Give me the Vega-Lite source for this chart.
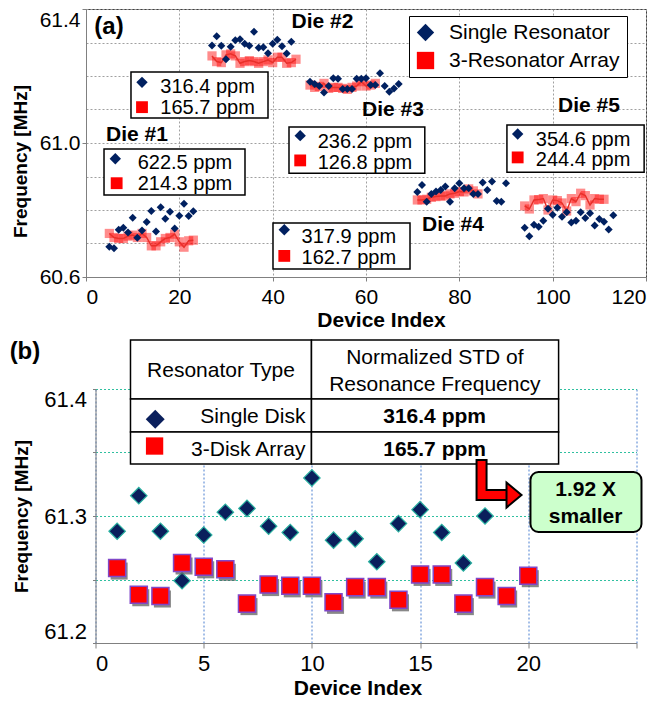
{
"$schema": "https://vega.github.io/schema/vega-lite/v6.json",
"background": "white",
"padding": {"left": 9, "top": 8, "right": 0, "bottom": 0},
"config": {"font": "Liberation Sans", "axis": {"labelColor": "black", "titleColor": "black", "labelFont": "Liberation Sans", "titleFont": "Liberation Sans"}, "legend": {"labelFont": "Liberation Sans"}, "text": {"font": "Liberation Sans"}},
"spacing": 112,
"bounds": "flush",
"center": true,
"resolve": {"scale": {"x": "independent", "y": "independent", "color": "independent", "shape": "independent"}},
"datasets": {
"singleA": [
{"d":1,"x":5,"y":60.690},{"d":1,"x":6,"y":60.686},{"d":1,"x":7,"y":60.741},{"d":1,"x":8,"y":60.747},{"d":1,"x":9,"y":60.733},{"d":1,"x":10,"y":60.777},{"d":1,"x":11,"y":60.717},{"d":1,"x":12,"y":60.739},{"d":1,"x":13,"y":60.764},{"d":1,"x":14,"y":60.797},{"d":1,"x":15,"y":60.736},{"d":1,"x":16,"y":60.808},{"d":1,"x":17,"y":60.774},{"d":1,"x":18,"y":60.795},{"d":1,"x":19,"y":60.745},{"d":1,"x":20,"y":60.783},{"d":1,"x":21,"y":60.819},{"d":1,"x":22,"y":60.782},{"d":1,"x":23,"y":60.796},
{"d":2,"x":27,"y":61.291},{"d":2,"x":28,"y":61.319},{"d":2,"x":29,"y":61.290},{"d":2,"x":30,"y":61.250},{"d":2,"x":31,"y":61.287},{"d":2,"x":32,"y":61.307},{"d":2,"x":33,"y":61.310},{"d":2,"x":34,"y":61.296},{"d":2,"x":35,"y":61.290},{"d":2,"x":36,"y":61.332},{"d":2,"x":37,"y":61.284},{"d":2,"x":38,"y":61.286},{"d":2,"x":39,"y":61.268},{"d":2,"x":40,"y":61.296},{"d":2,"x":41,"y":61.308},{"d":2,"x":42,"y":61.289},{"d":2,"x":43,"y":61.267},{"d":2,"x":44,"y":61.302},
{"d":3,"x":48,"y":61.183},{"d":3,"x":49,"y":61.176},{"d":3,"x":50,"y":61.170},{"d":3,"x":51,"y":61.151},{"d":3,"x":52,"y":61.170},{"d":3,"x":53,"y":61.193},{"d":3,"x":54,"y":61.192},{"d":3,"x":55,"y":61.161},{"d":3,"x":56,"y":61.161},{"d":3,"x":57,"y":61.161},{"d":3,"x":58,"y":61.192},{"d":3,"x":59,"y":61.192},{"d":3,"x":60,"y":61.193},{"d":3,"x":61,"y":61.173},{"d":3,"x":62,"y":61.173},{"d":3,"x":63,"y":61.208},{"d":3,"x":64,"y":61.170},{"d":3,"x":65,"y":61.153},{"d":3,"x":66,"y":61.163},{"d":3,"x":67,"y":61.176},
{"d":4,"x":71,"y":60.854},{"d":4,"x":72,"y":60.875},{"d":4,"x":73,"y":60.825},{"d":4,"x":74,"y":60.848},{"d":4,"x":75,"y":60.855},{"d":4,"x":76,"y":60.860},{"d":4,"x":77,"y":60.870},{"d":4,"x":78,"y":60.825},{"d":4,"x":79,"y":60.865},{"d":4,"x":80,"y":60.880},{"d":4,"x":81,"y":60.865},{"d":4,"x":82,"y":60.865},{"d":4,"x":83,"y":60.848},{"d":4,"x":84,"y":60.848},{"d":4,"x":85,"y":60.882},{"d":4,"x":86,"y":60.860},{"d":4,"x":87,"y":60.885},{"d":4,"x":88,"y":60.827},{"d":4,"x":89,"y":60.825},{"d":4,"x":90,"y":60.880},
{"d":5,"x":94,"y":60.747},{"d":5,"x":95,"y":60.722},{"d":5,"x":96,"y":60.756},{"d":5,"x":97,"y":60.750},{"d":5,"x":98,"y":60.768},{"d":5,"x":99,"y":60.804},{"d":5,"x":100,"y":60.786},{"d":5,"x":101,"y":60.807},{"d":5,"x":102,"y":60.780},{"d":5,"x":103,"y":60.793},{"d":5,"x":104,"y":60.763},{"d":5,"x":105,"y":60.768},{"d":5,"x":106,"y":60.793},{"d":5,"x":107,"y":60.776},{"d":5,"x":108,"y":60.790},{"d":5,"x":109,"y":60.754},{"d":5,"x":110,"y":60.773},{"d":5,"x":111,"y":60.765},{"d":5,"x":112,"y":60.742},{"d":5,"x":113,"y":60.784}
],
"arrayA": [
{"d":1,"x":5,"y":60.730},{"d":1,"x":6,"y":60.718},{"d":1,"x":7,"y":60.715},{"d":1,"x":8,"y":60.715},{"d":1,"x":9,"y":60.722},{"d":1,"x":10,"y":60.725},{"d":1,"x":11,"y":60.718},{"d":1,"x":12,"y":60.730},{"d":1,"x":13,"y":60.718},{"d":1,"x":14,"y":60.693},{"d":1,"x":15,"y":60.693},{"d":1,"x":16,"y":60.705},{"d":1,"x":17,"y":60.715},{"d":1,"x":18,"y":60.718},{"d":1,"x":19,"y":60.728},{"d":1,"x":20,"y":60.705},{"d":1,"x":21,"y":60.689},{"d":1,"x":22,"y":60.708},{"d":1,"x":23,"y":60.710},
{"d":2,"x":27,"y":61.260},{"d":2,"x":28,"y":61.243},{"d":2,"x":29,"y":61.240},{"d":2,"x":30,"y":61.263},{"d":2,"x":31,"y":61.266},{"d":2,"x":32,"y":61.260},{"d":2,"x":33,"y":61.238},{"d":2,"x":34,"y":61.243},{"d":2,"x":35,"y":61.246},{"d":2,"x":36,"y":61.243},{"d":2,"x":37,"y":61.238},{"d":2,"x":38,"y":61.243},{"d":2,"x":39,"y":61.248},{"d":2,"x":40,"y":61.240},{"d":2,"x":41,"y":61.256},{"d":2,"x":42,"y":61.256},{"d":2,"x":43,"y":61.238},{"d":2,"x":44,"y":61.240},{"d":2,"x":45,"y":61.250},
{"d":3,"x":48,"y":61.173},{"d":3,"x":49,"y":61.166},{"d":3,"x":50,"y":61.169},{"d":3,"x":51,"y":61.178},{"d":3,"x":52,"y":61.163},{"d":3,"x":53,"y":61.166},{"d":3,"x":54,"y":61.166},{"d":3,"x":55,"y":61.163},{"d":3,"x":56,"y":61.160},{"d":3,"x":57,"y":61.166},{"d":3,"x":58,"y":61.170},{"d":3,"x":59,"y":61.183},{"d":3,"x":60,"y":61.170},{"d":3,"x":61,"y":61.173},{"d":3,"x":62,"y":61.178},
{"d":4,"x":71,"y":60.830},{"d":4,"x":72,"y":60.830},{"d":4,"x":73,"y":60.832},{"d":4,"x":74,"y":60.838},{"d":4,"x":75,"y":60.840},{"d":4,"x":76,"y":60.842},{"d":4,"x":77,"y":60.842},{"d":4,"x":78,"y":60.848},{"d":4,"x":79,"y":60.850},{"d":4,"x":80,"y":60.855},{"d":4,"x":81,"y":60.854},{"d":4,"x":82,"y":60.863},{"d":4,"x":83,"y":60.857},{"d":4,"x":84,"y":60.848},
{"d":5,"x":94,"y":60.812},{"d":5,"x":95,"y":60.803},{"d":5,"x":96,"y":60.830},{"d":5,"x":97,"y":60.831},{"d":5,"x":98,"y":60.834},{"d":5,"x":99,"y":60.800},{"d":5,"x":100,"y":60.830},{"d":5,"x":101,"y":60.828},{"d":5,"x":102,"y":60.821},{"d":5,"x":103,"y":60.797},{"d":5,"x":104,"y":60.834},{"d":5,"x":105,"y":60.825},{"d":5,"x":106,"y":60.850},{"d":5,"x":107,"y":60.843},{"d":5,"x":108,"y":60.815},{"d":5,"x":109,"y":60.834},{"d":5,"x":110,"y":60.832},{"d":5,"x":111,"y":60.832}
],
"boxA": [{"x":3.86,"x2":34.07,"y":60.845,"y2":60.982},{"x":9.64,"x2":39.0,"y":61.075,"y2":61.212},{"x":43.5,"x2":72.6,"y":60.910,"y2":61.048},{"x":40.07,"x2":69.43,"y":60.624,"y2":60.761},{"x":90.2,"x2":119.6,"y":60.913,"y2":61.054}],
"ppmA": [{"x":11.07,"y":60.941,"t":"622.5 ppm"},{"x":11.07,"y":60.877,"t":"214.3 ppm"},{"x":15.93,"y":61.167,"t":"316.4 ppm"},{"x":15.93,"y":61.104,"t":"165.7 ppm"},{"x":49.64,"y":61.003,"t":"236.2 ppm"},{"x":49.64,"y":60.940,"t":"126.8 ppm"},{"x":46.2,"y":60.719,"t":"317.9 ppm"},{"x":46.2,"y":60.657,"t":"162.7 ppm"},{"x":96.4,"y":61.010,"t":"354.6 ppm"},{"x":96.4,"y":60.948,"t":"244.4 ppm"}],
"dmA": [{"x":6.28,"y":60.953},{"x":12.0,"y":61.181},{"x":45.9,"y":61.022},{"x":42.49,"y":60.741},{"x":92.5,"y":61.027}],
"sqA": [{"x":6.57,"y":60.880},{"x":12.0,"y":61.107},{"x":45.9,"y":60.948},{"x":42.49,"y":60.663},{"x":92.5,"y":60.957}],
"dieA": [{"x":10.93,"y":61.024,"t":"Die #1"},{"x":50.68,"y":61.361,"t":"Die #2"},{"x":65.78,"y":61.099,"t":"Die #3"},{"x":78.64,"y":60.755,"t":"Die #4"},{"x":107.78,"y":61.110,"t":"Die #5"}],
"singleB": [{"x":1,"y":61.288},{"x":2,"y":61.316},{"x":3,"y":61.288},{"x":4,"y":61.249},{"x":5,"y":61.285},{"x":6,"y":61.303},{"x":7,"y":61.306},{"x":8,"y":61.292},{"x":9,"y":61.287},{"x":10,"y":61.330},{"x":11,"y":61.281},{"x":12,"y":61.282},{"x":13,"y":61.264},{"x":14,"y":61.294},{"x":15,"y":61.305},{"x":16,"y":61.287},{"x":17,"y":61.263},{"x":18,"y":61.300}],
"arrayB": [{"x":1,"y":61.259},{"x":2,"y":61.238},{"x":3,"y":61.237},{"x":4,"y":61.263},{"x":5,"y":61.260},{"x":6,"y":61.258},{"x":7,"y":61.231},{"x":8,"y":61.246},{"x":9,"y":61.245},{"x":10,"y":61.245},{"x":11,"y":61.232},{"x":12,"y":61.244},{"x":13,"y":61.244},{"x":14,"y":61.234},{"x":15,"y":61.254},{"x":16,"y":61.254},{"x":17,"y":61.231},{"x":18,"y":61.244},{"x":19,"y":61.237},{"x":20,"y":61.253}],
"tableB": [{"x":1.617,"x2":9.98,"y":61.3921,"y2":61.4386},{"x":9.98,"x2":21.4,"y":61.3921,"y2":61.4386},{"x":1.617,"x2":9.98,"y":61.3661,"y2":61.3921},{"x":9.98,"x2":21.4,"y":61.3661,"y2":61.3921},{"x":1.617,"x2":9.98,"y":61.3409,"y2":61.3661},{"x":9.98,"x2":21.4,"y":61.3409,"y2":61.3661}],
"headB": [{"x":5.8,"y":61.4142,"t":"Resonator Type"},{"x":15.68,"y":61.4244,"t":"Normalized STD of"},{"x":15.68,"y":61.4031,"t":"Resonance Frequency"}],
"rightB": [{"x":9.7,"y":61.3782,"t":"Single Disk"},{"x":9.7,"y":61.352,"t":"3-Disk Array"}],
"boldB": [{"x":15.67,"y":61.3782,"t":"316.4 ppm"},{"x":15.67,"y":61.352,"t":"165.7 ppm"}],
"arrowOut": [{"x":17.84,"y":61.3449,"o":1},{"x":17.84,"y":61.3165,"o":2},{"x":19.2,"y":61.3165,"o":3}],
"arrowIn": [{"x":17.84,"y":61.3433,"o":1},{"x":17.84,"y":61.3165,"o":2},{"x":19.2,"y":61.3165,"o":3}],
"calloutB": [{"x":20.1,"x2":25.23,"y":61.2874,"y2":61.3346}],
"calloutT": [{"x":22.65,"y":61.3205,"t":"1.92 X"},{"x":22.65,"y":61.2992,"t":"smaller"}]
},
"vconcat": [
{
"width": 560, "height": 268,
"view": {"stroke": "#404040"},
"encoding": {
"x": {"field": "x", "type": "quantitative", "scale": {"domain": [0, 120], "nice": false, "zero": false},
"axis": {"values": [0,20,40,60,80,100,120], "format": "d", "labelFlush": true, "labelFontSize": 21, "labelPadding": 5, "tickSize": 4, "tickColor": "#808080", "domainColor": "#808080", "grid": true, "gridColor": "#a0a0a0", "gridDash": [2,2], "title": "Device Index", "titleFontSize": 21, "titleFontWeight": "bold", "titlePadding": 2, "titleX": 295}},
"y": {"field": "y", "type": "quantitative", "scale": {"domain": [60.6, 61.4], "nice": false, "zero": false},
"axis": {"values": [60.6,60.7,60.8,60.9,61.0,61.1,61.2,61.3,61.4], "labelExpr": "(abs(datum.value-60.6)<0.001||abs(datum.value-61)<0.001||abs(datum.value-61.4)<0.001) ? format(datum.value,'.1f') : ''", "labelBaseline": {"condition": {"test": "datum.value>61.39", "value": "top"}, "value": "middle"}, "tickOpacity": {"condition": {"test": "abs(datum.value-60.6)<0.001||abs(datum.value-61)<0.001||abs(datum.value-61.4)<0.001", "value": 1}, "value": 0}, "tickSize": 4, "tickColor": "#808080", "labelPadding": 2, "labelFontSize": 21, "grid": true, "gridColor": "#a0a0a0", "gridDash": [2,2], "domainColor": "#808080", "title": "Frequency [MHz]", "titleFontSize": 19, "titleFontWeight": "bold", "titlePadding": 9, "titleY": 152}}
},
"layer": [
{"data": {"name": "arrayA"}, "mark": {"type": "point", "filled": true, "size": 85, "opacity": 0.45},
"encoding": {
"color": {"datum": "3-Resonator Array", "scale": {"domain": ["Single Resonator", "3-Resonator Array"], "range": ["#002060", "#ff0000"]}, "legend": {"orient": "none", "legendX": 323, "legendY": 7, "title": null, "fillColor": "white", "strokeColor": "black", "padding": 6, "labelFontSize": 21, "labelLimit": 400, "labelColor": "black", "symbolSize": 300, "symbolOpacity": 1, "rowPadding": 6, "labelOffset": 13}},
"shape": {"datum": "3-Resonator Array", "scale": {"domain": ["Single Resonator", "3-Resonator Array"], "range": ["diamond", "square"]}, "legend": {"orient": "none", "legendX": 323, "legendY": 7, "title": null, "fillColor": "white", "strokeColor": "black", "padding": 6, "labelFontSize": 21, "labelLimit": 400, "labelColor": "black", "symbolSize": 300, "symbolOpacity": 1, "rowPadding": 6, "labelOffset": 13}}
}},
{"data": {"name": "arrayA"}, "mark": {"type": "line", "color": "#e8302a", "strokeWidth": 1.5}, "encoding": {"detail": {"field": "d", "type": "nominal"}}},
{"data": {"name": "singleA"}, "mark": {"type": "point", "filled": true, "size": 64, "opacity": 1},
"encoding": {
"color": {"datum": "Single Resonator", "scale": {"domain": ["Single Resonator", "3-Resonator Array"], "range": ["#002060", "#ff0000"]}},
"shape": {"datum": "Single Resonator", "scale": {"domain": ["Single Resonator", "3-Resonator Array"], "range": ["diamond", "square"]}}
}},
{"data": {"name": "boxA"}, "mark": {"type": "rect", "fill": "white", "stroke": "black", "strokeWidth": 1.5}, "encoding": {"x2": {"field": "x2"}, "y2": {"field": "y2"}}},
{"data": {"name": "ppmA"}, "mark": {"type": "text", "align": "left", "baseline": "middle", "fontSize": 20, "color": "black"}, "encoding": {"text": {"field": "t"}}},
{"data": {"name": "dmA"}, "mark": {"type": "point", "shape": "diamond", "filled": true, "size": 130, "color": "#002060", "opacity": 1}},
{"data": {"name": "sqA"}, "mark": {"type": "point", "shape": "square", "filled": true, "size": 140, "color": "#ff0000", "opacity": 1}},
{"data": {"name": "dieA"}, "mark": {"type": "text", "align": "center", "baseline": "middle", "fontSize": 21, "fontWeight": "bold", "color": "black"}, "encoding": {"text": {"field": "t"}}},
{"data": {"values": [{"x": 4.93, "y": 61.346, "t": "(a)"}]}, "mark": {"type": "text", "align": "center", "baseline": "middle", "fontSize": 24, "fontWeight": "bold", "color": "black"}, "encoding": {"text": {"field": "t"}}}
]
},
{
"width": 541, "height": 254,
"view": {"stroke": null},
"encoding": {
"x": {"field": "x", "type": "quantitative", "scale": {"domain": [0, 25], "nice": false, "zero": false},
"axis": {"values": [0,5,10,15,20,25], "labelExpr": "datum.value==25 ? '' : datum.label", "labelFlush": true, "labelFontSize": 22, "labelPadding": 5, "tickSize": 5, "tickColor": "#808080", "domainColor": "#808080", "grid": true, "gridColor": "#4a7fd0", "gridDash": [2,2], "title": "Device Index", "titleFontSize": 21, "titleFontWeight": "bold", "titlePadding": 3, "titleX": 262}},
"y": {"field": "y", "type": "quantitative", "scale": {"domain": [61.2, 61.4], "nice": false, "zero": false},
"axis": {"values": [61.2,61.25,61.3,61.35,61.4], "labelExpr": "(abs(datum.value-61.25)<0.001||abs(datum.value-61.35)<0.001) ? '' : format(datum.value,'.1f')", "labelFlush": true, "labelFontSize": 22, "labelPadding": 6, "tickSize": 3, "tickColor": "#808080", "domainColor": "#808080", "grid": true, "gridColor": "#30c0a0", "gridDash": [2,2], "title": "Frequency [MHz]", "titleFontSize": 19, "titleFontWeight": "bold", "titlePadding": 12}}
},
"layer": [
{"data": {"name": "singleB"}, "mark": {"type": "point", "shape": "diamond", "filled": true, "size": 270, "fill": "#0a1f5c", "stroke": "#2ab0a0", "strokeWidth": 1.2, "opacity": 1}},
{"data": {"name": "arrayB"}, "mark": {"type": "point", "shape": "square", "filled": true, "size": 290, "color": "#555555", "opacity": 0.7, "xOffset": 2, "yOffset": 3}},
{"data": {"name": "arrayB"}, "mark": {"type": "point", "shape": "square", "filled": true, "size": 290, "fill": "#ff0000", "stroke": "#8048c8", "strokeWidth": 1.5, "opacity": 1}},
{"data": {"name": "tableB"}, "mark": {"type": "rect", "fill": "white", "stroke": "black", "strokeWidth": 1.5}, "encoding": {"x2": {"field": "x2"}, "y2": {"field": "y2"}}},
{"data": {"name": "headB"}, "mark": {"type": "text", "align": "center", "baseline": "middle", "fontSize": 21, "color": "black"}, "encoding": {"text": {"field": "t"}}},
{"data": {"name": "rightB"}, "mark": {"type": "text", "align": "right", "baseline": "middle", "fontSize": 21, "color": "black"}, "encoding": {"text": {"field": "t"}}},
{"data": {"name": "boldB"}, "mark": {"type": "text", "align": "center", "baseline": "middle", "fontSize": 21, "fontWeight": "bold", "color": "black"}, "encoding": {"text": {"field": "t"}}},
{"data": {"values": [{"x": 2.76, "y": 61.3761}]}, "mark": {"type": "point", "shape": "diamond", "filled": true, "size": 360, "color": "#0a1f5c", "opacity": 1}},
{"data": {"values": [{"x": 2.73, "y": 61.3551}]}, "mark": {"type": "point", "shape": "square", "filled": true, "size": 300, "color": "#ff0000", "opacity": 1}},
{"data": {"name": "arrowOut"}, "mark": {"type": "line", "color": "black", "strokeWidth": 12, "strokeCap": "butt", "strokeJoin": "miter"}, "encoding": {"order": {"field": "o", "type": "quantitative"}}},
{"data": {"name": "arrowIn"}, "mark": {"type": "line", "color": "#ff0000", "strokeWidth": 8, "strokeCap": "butt", "strokeJoin": "miter"}, "encoding": {"order": {"field": "o", "type": "quantitative"}}},
{"data": {"values": [{"x": 19.34, "y": 61.3165}]}, "mark": {"type": "point", "shape": "M -0.6 -1 L 0.6 0 L -0.6 1 Z", "filled": true, "size": 625, "fill": "#ff0000", "stroke": "black", "strokeWidth": 2, "opacity": 1}},
{"data": {"name": "calloutB"}, "mark": {"type": "rect", "fill": "#ccffcc", "stroke": "black", "strokeWidth": 2, "cornerRadius": 8}, "encoding": {"x2": {"field": "x2"}, "y2": {"field": "y2"}}},
{"data": {"name": "calloutT"}, "mark": {"type": "text", "align": "center", "baseline": "middle", "fontSize": 21, "fontWeight": "bold", "color": "black"}, "encoding": {"text": {"field": "t"}}},
{"data": {"values": [{"x": -3.26, "y": 61.429, "t": "(b)"}]}, "mark": {"type": "text", "align": "center", "baseline": "middle", "fontSize": 24, "fontWeight": "bold", "color": "black"}, "encoding": {"text": {"field": "t"}}}
]
}
]
}
